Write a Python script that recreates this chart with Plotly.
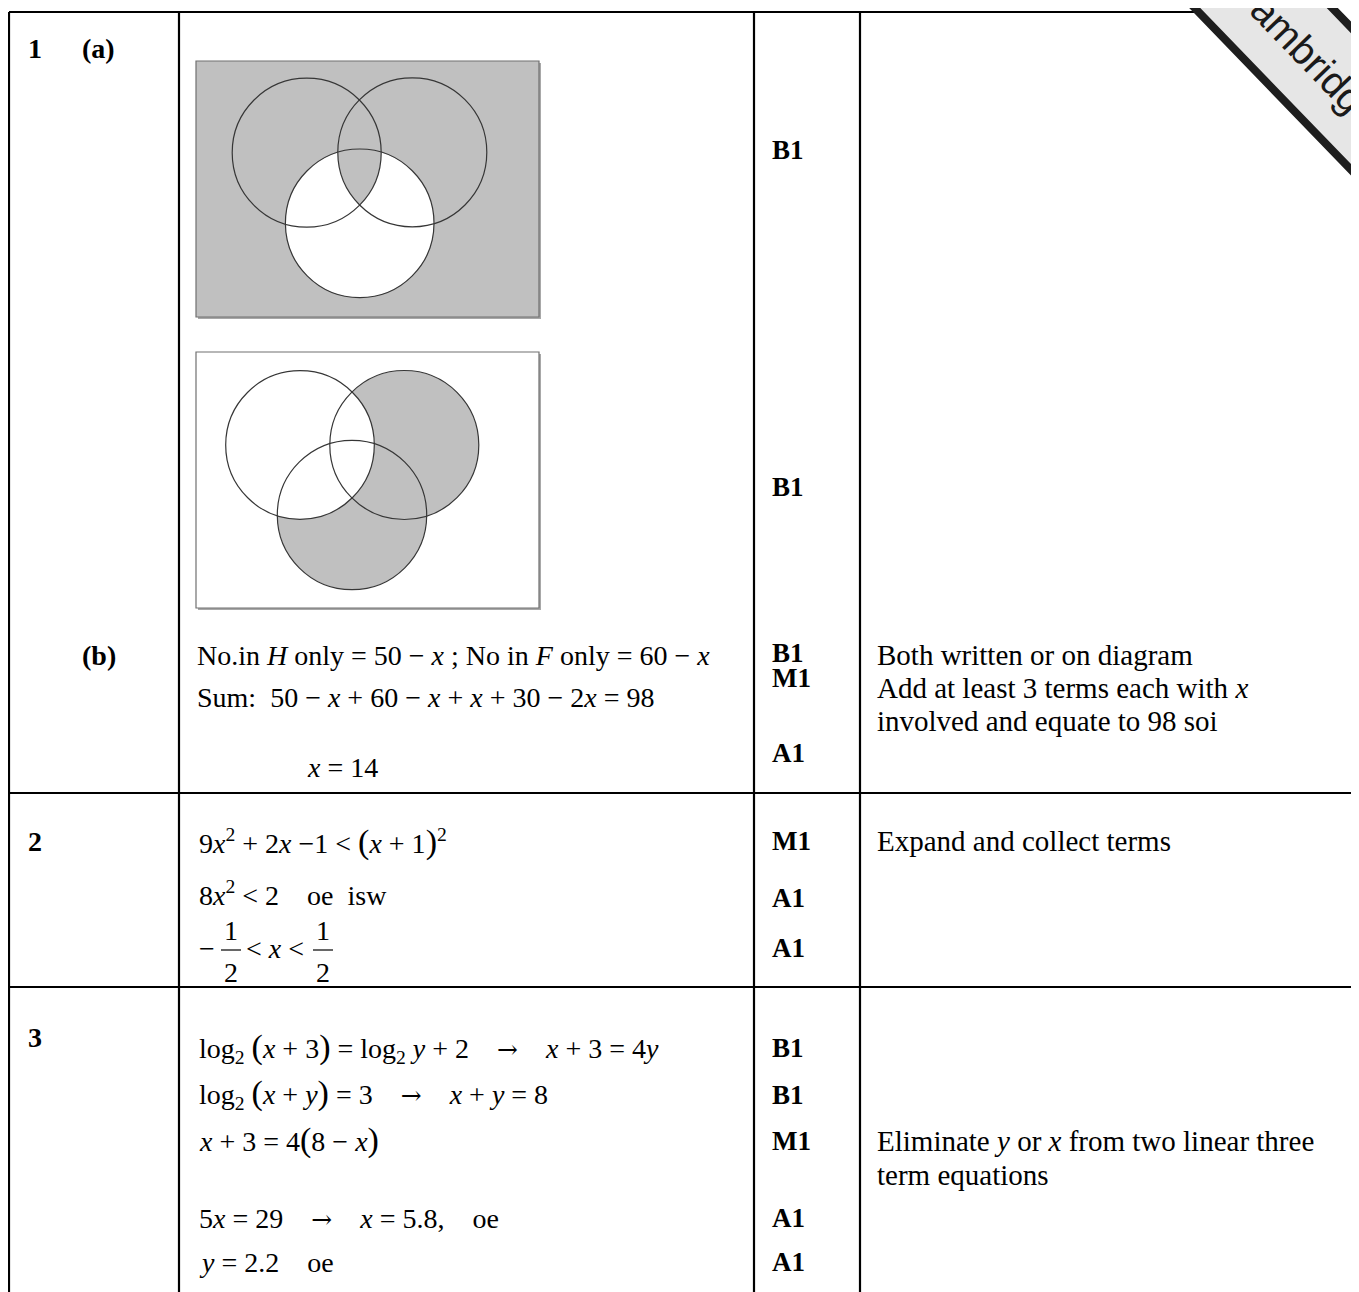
import numpy as np
import plotly.graph_objects as go

W, H = 1359, 1292
OFF = 8  # page body margin that the browser adds round the figure
SERIF = "Liberation Serif"
FS = 28

# table grid
col_x = [9, 179, 754, 860]
row_y = [793, 987]

# question column
q_labels = ["<b>1</b>", "<b>(a)</b>", "<b>(b)</b>", "<b>2</b>", "<b>3</b>"]
q_x = [26, 80, 80, 26, 26]
q_y = [48, 48, 655, 841, 1037]

# answer column
SP = "\u00a0\u00a0\u00a0 "
ARR = '<span style="font-family:DejaVu Serif;font-size:25px">→</span>'
LP = '<span style="font-size:34px">(</span>'
RP = '<span style="font-size:34px">)</span>'
ans_lines = [
    "No.in <i>H</i> only = 50 − <i>x</i> ; No in <i>F</i> only = 60 − <i>x</i>",
    "Sum:  50 − <i>x</i> + 60 − <i>x</i> + <i>x</i> + 30 − 2<i>x</i> = 98",
    "<i>x</i> = 14",
    f"9<i>x</i><sup>2</sup> + 2<i>x</i> −1 &lt; {LP}<i>x</i> + 1{RP}<sup>2</sup>",
    "8<i>x</i><sup>2</sup> &lt; 2\u00a0\u00a0\u00a0 oe\u00a0 isw",
    f"log<sub>2</sub> {LP}<i>x</i> + 3{RP} = log<sub>2</sub> <i>y</i> + 2{SP}{ARR}{SP}<i>x</i> + 3 = 4<i>y</i>",
    f"log<sub>2</sub> {LP}<i>x</i> + <i>y</i>{RP} = 3{SP}{ARR}{SP}<i>x</i> + <i>y</i> = 8",
    f"<i>x</i> + 3 = 4{LP}8 − <i>x</i>{RP}",
    f"5<i>x</i> = 29{SP}{ARR}{SP}<i>x</i> = 5.8,\u00a0\u00a0\u00a0 oe",
    "<i>y</i> = 2.2\u00a0\u00a0\u00a0 oe",
]
ans_x = [195, 195, 305, 197, 197, 197, 197, 197, 197, 197]
ans_y = [655, 697, 767, 842, 893, 1048, 1094, 1140, 1218, 1262]

# fraction line: -1/2 < x < 1/2
frac_num = ["1", "1"]
frac_den = ["2", "2"]
frac_x = [231, 323]

# marks column
marks = ["B1", "B1", "B1", "M1", "A1", "M1", "A1", "A1", "B1", "B1", "M1", "A1", "A1"]
marks_y = [150, 487, 653, 678, 753, 841, 898, 948, 1048, 1095, 1141, 1218, 1262]

# comments column
notes = [
    "Both written or on diagram",
    "Add at least 3 terms each with <i>x</i>",
    "involved and equate to 98 soi",
    "Expand and collect terms",
    "Eliminate <i>y</i> or <i>x</i> from two linear three",
    "term equations",
]
notes_y = [655, 688, 721, 841, 1141, 1175]

# Venn diagrams: circles (cx, cy, r) for A (left), B (right), C (bottom)
venn1 = [(306.7, 152.7, 74.5), (412.3, 152.3, 74.5), (359.7, 223.3, 74.3)]
venn2 = [(300.0, 445.0, 74.3), (404.3, 445.0, 74.5), (352.0, 515.0, 74.7)]
box1 = (196, 61, 539, 317)
box2 = (196, 352, 539, 608)

GREY = "#c0c0c0"
EDGE = "#363636"


def lens_path(c1, c2, n=240):
    t = np.linspace(0, 2 * np.pi, n, endpoint=False)
    pts = []
    for (ax, ay, ar), (bx, by, br) in ((c1, c2), (c2, c1)):
        px, py = ax + ar * np.cos(t), ay + ar * np.sin(t)
        keep = np.hypot(px - bx, py - by) <= br
        pts += list(zip(px[keep], py[keep]))
    pts = np.array(pts)
    mx, my = pts.mean(axis=0)
    pts = pts[np.argsort(np.arctan2(pts[:, 1] - my, pts[:, 0] - mx))]
    return "M" + " L".join(f"{x:.2f},{y:.2f}" for x, y in pts) + " Z"


def circ(c, fill=None, line=True):
    cx, cy, r = c
    return dict(type="circle", xref="x", yref="y", x0=cx - r, x1=cx + r, y0=cy - r, y1=cy + r,
                fillcolor=fill or "rgba(0,0,0,0)",
                line=dict(color=EDGE, width=1.2) if line else dict(width=0))


def box(b, fill):
    x0, y0, x1, y1 = b
    return [
        dict(type="rect", x0=x0 + 2, y0=y0 + 2, x1=x1 + 2, y1=y1 + 2, fillcolor="#a8a8a8", line=dict(width=0)),
        dict(type="rect", x0=x0, y0=y0, x1=x1, y1=y1, fillcolor=fill, line=dict(color="#707070", width=1.2)),
    ]


shapes = []
# diagram (a)(i): everything shaded except bottom circle outside A∩B
shapes += box(box1, GREY)
shapes.append(circ(venn1[2], "white", line=False))
shapes.append(dict(type="path", path=lens_path(venn1[0], venn1[1]), fillcolor=GREY, line=dict(width=0)))
shapes += [circ(c) for c in venn1]
# diagram (a)(ii): (B ∪ C) outside A
shapes += box(box2, "white")
shapes.append(circ(venn2[1], GREY, line=False))
shapes.append(circ(venn2[2], GREY, line=False))
shapes.append(circ(venn2[0], "white", line=False))
shapes += [circ(c) for c in venn2]

# table rules
LW = 2.2
shapes.append(dict(type="line", x0=col_x[0], x1=1198, y0=12, y1=12, line=dict(color="black", width=LW)))
for y in row_y:
    shapes.append(dict(type="line", x0=col_x[0], x1=W + OFF, y0=y, y1=y, line=dict(color="black", width=LW)))
for x in col_x:
    shapes.append(dict(type="line", x0=x, x1=x, y0=12, y1=H + OFF, line=dict(color="black", width=LW)))

# fraction bars
for fx in frac_x:
    shapes.append(dict(type="line", x0=fx - 10, x1=fx + 10, y0=950, y1=950, line=dict(color="black", width=1.2)))

# corner stamp band
ang = np.deg2rad(46)
d = np.array([np.cos(ang), np.sin(ang)])
nrm = np.array([np.sin(ang), -np.cos(ang)])
p0 = np.array([1187.0, 0.0])
corners = [p0 - 60 * d, p0 + 260 * d, p0 + 260 * d + 99 * nrm, p0 - 60 * d + 99 * nrm]
band = "M" + " L".join(f"{x:.1f},{y:.1f}" for x, y in corners) + " Z"
shapes.append(dict(type="path", path=band, fillcolor="#e6e6e6", line=dict(color="#1e1e1e", width=8)))

fig = go.Figure()
fig.add_trace(go.Scatter(x=[OFF, W], y=[OFF, H], mode="markers", marker=dict(opacity=0), hoverinfo="skip"))


def txt(x, y, s, size=FS, anchor="left", **kw):
    fig.add_annotation(x=x, y=y, text=s, showarrow=False, xanchor=anchor, yanchor="middle",
                       font=dict(family=SERIF, size=size, color="black"), **kw)


for s, x, y in zip(q_labels, q_x, q_y):
    txt(x, y, s, size=28)
for s, x, y in zip(ans_lines, ans_x, ans_y):
    txt(x, y, s)
txt(197, 948, "−")
for num, den, fx in zip(frac_num, frac_den, frac_x):
    txt(fx, 930, num, anchor="center")
    txt(fx, 972, den, anchor="center")
txt(244, 948, "&lt; <i>x</i> &lt;")
for s, y in zip(marks, marks_y):
    txt(770, y, f"<b>{s}</b>", size=27)
for s, y in zip(notes, notes_y):
    txt(875, y, s, size=29)

fig.add_annotation(x=1306, y=52, text="Cambridge", showarrow=False, textangle=46,
                   xanchor="center", yanchor="middle",
                   font=dict(family="Liberation Sans", size=40, color="#1a1a1a"))

fig.update_layout(
    width=W, height=H, margin=dict(l=0, r=0, t=0, b=0),
    paper_bgcolor="white", plot_bgcolor="white", showlegend=False,
    shapes=shapes,
    xaxis=dict(range=[OFF, W + OFF], visible=False, fixedrange=True),
    yaxis=dict(range=[H + OFF, OFF], visible=False, fixedrange=True),
)
fig.write_html("out.html")
